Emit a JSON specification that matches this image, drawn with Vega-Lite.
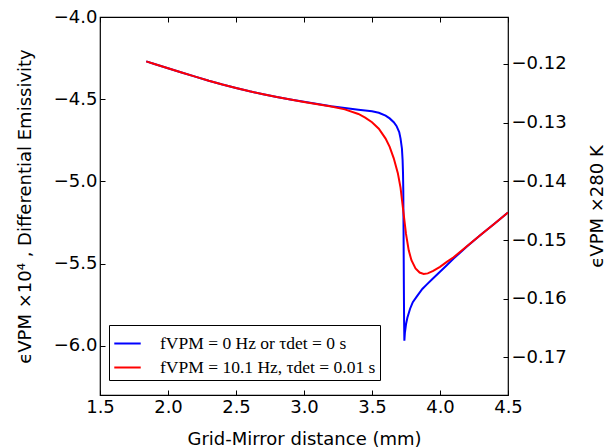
{
  "$schema": "https://vega.github.io/schema/vega-lite/v6.json",
  "width": 408,
  "height": 378,
  "autosize": "none",
  "padding": {"left": 100, "top": 17, "right": 99, "bottom": 53},
  "background": "white",
  "config": {
    "view": {"stroke": "black", "strokeWidth": 1.2},
    "axis": {
      "grid": false, "domain": false, "labelFlush": false, "labelOverlap": false,
      "labelFont": "DejaVu Sans", "labelFontSize": 18, "labelColor": "black",
      "titleFont": "DejaVu Sans", "titleFontSize": 18, "titleColor": "black", "titleFontWeight": "normal",
      "tickColor": "black", "tickSize": -5, "tickWidth": 1, "labelPadding": 8
    },
    "legend": {
      "labelFont": "Liberation Serif", "labelFontSize": 17.5, "labelColor": "black"
    }
  },
  "datasets": {
    "curves": [
      {"x": 1.84, "y": -4.270, "s": "fVPM = 0 Hz or τdet = 0 s"},
      {"x": 1.9, "y": -4.286, "s": "fVPM = 0 Hz or τdet = 0 s"},
      {"x": 2.0, "y": -4.312, "s": "fVPM = 0 Hz or τdet = 0 s"},
      {"x": 2.1, "y": -4.338, "s": "fVPM = 0 Hz or τdet = 0 s"},
      {"x": 2.2, "y": -4.363, "s": "fVPM = 0 Hz or τdet = 0 s"},
      {"x": 2.3, "y": -4.388, "s": "fVPM = 0 Hz or τdet = 0 s"},
      {"x": 2.4, "y": -4.411, "s": "fVPM = 0 Hz or τdet = 0 s"},
      {"x": 2.5, "y": -4.432, "s": "fVPM = 0 Hz or τdet = 0 s"},
      {"x": 2.6, "y": -4.452, "s": "fVPM = 0 Hz or τdet = 0 s"},
      {"x": 2.7, "y": -4.470, "s": "fVPM = 0 Hz or τdet = 0 s"},
      {"x": 2.8, "y": -4.487, "s": "fVPM = 0 Hz or τdet = 0 s"},
      {"x": 2.9, "y": -4.502, "s": "fVPM = 0 Hz or τdet = 0 s"},
      {"x": 3.0, "y": -4.516, "s": "fVPM = 0 Hz or τdet = 0 s"},
      {"x": 3.1, "y": -4.530, "s": "fVPM = 0 Hz or τdet = 0 s"},
      {"x": 3.2, "y": -4.543, "s": "fVPM = 0 Hz or τdet = 0 s"},
      {"x": 3.3, "y": -4.554, "s": "fVPM = 0 Hz or τdet = 0 s"},
      {"x": 3.4, "y": -4.564, "s": "fVPM = 0 Hz or τdet = 0 s"},
      {"x": 3.5, "y": -4.574, "s": "fVPM = 0 Hz or τdet = 0 s"},
      {"x": 3.55, "y": -4.583, "s": "fVPM = 0 Hz or τdet = 0 s"},
      {"x": 3.6, "y": -4.600, "s": "fVPM = 0 Hz or τdet = 0 s"},
      {"x": 3.63, "y": -4.617, "s": "fVPM = 0 Hz or τdet = 0 s"},
      {"x": 3.66, "y": -4.640, "s": "fVPM = 0 Hz or τdet = 0 s"},
      {"x": 3.68, "y": -4.663, "s": "fVPM = 0 Hz or τdet = 0 s"},
      {"x": 3.70, "y": -4.700, "s": "fVPM = 0 Hz or τdet = 0 s"},
      {"x": 3.71, "y": -4.740, "s": "fVPM = 0 Hz or τdet = 0 s"},
      {"x": 3.72, "y": -4.800, "s": "fVPM = 0 Hz or τdet = 0 s"},
      {"x": 3.725, "y": -4.870, "s": "fVPM = 0 Hz or τdet = 0 s"},
      {"x": 3.728, "y": -4.950, "s": "fVPM = 0 Hz or τdet = 0 s"},
      {"x": 3.730, "y": -5.050, "s": "fVPM = 0 Hz or τdet = 0 s"},
      {"x": 3.732, "y": -5.300, "s": "fVPM = 0 Hz or τdet = 0 s"},
      {"x": 3.734, "y": -5.600, "s": "fVPM = 0 Hz or τdet = 0 s"},
      {"x": 3.736, "y": -5.850, "s": "fVPM = 0 Hz or τdet = 0 s"},
      {"x": 3.738, "y": -5.970, "s": "fVPM = 0 Hz or τdet = 0 s"},
      {"x": 3.742, "y": -5.920, "s": "fVPM = 0 Hz or τdet = 0 s"},
      {"x": 3.75, "y": -5.870, "s": "fVPM = 0 Hz or τdet = 0 s"},
      {"x": 3.76, "y": -5.830, "s": "fVPM = 0 Hz or τdet = 0 s"},
      {"x": 3.78, "y": -5.775, "s": "fVPM = 0 Hz or τdet = 0 s"},
      {"x": 3.80, "y": -5.735, "s": "fVPM = 0 Hz or τdet = 0 s"},
      {"x": 3.83, "y": -5.700, "s": "fVPM = 0 Hz or τdet = 0 s"},
      {"x": 3.87, "y": -5.655, "s": "fVPM = 0 Hz or τdet = 0 s"},
      {"x": 3.9, "y": -5.630, "s": "fVPM = 0 Hz or τdet = 0 s"},
      {"x": 3.95, "y": -5.590, "s": "fVPM = 0 Hz or τdet = 0 s"},
      {"x": 4.0, "y": -5.550, "s": "fVPM = 0 Hz or τdet = 0 s"},
      {"x": 4.05, "y": -5.510, "s": "fVPM = 0 Hz or τdet = 0 s"},
      {"x": 4.1, "y": -5.470, "s": "fVPM = 0 Hz or τdet = 0 s"},
      {"x": 4.2, "y": -5.395, "s": "fVPM = 0 Hz or τdet = 0 s"},
      {"x": 4.3, "y": -5.325, "s": "fVPM = 0 Hz or τdet = 0 s"},
      {"x": 4.4, "y": -5.258, "s": "fVPM = 0 Hz or τdet = 0 s"},
      {"x": 4.5, "y": -5.190, "s": "fVPM = 0 Hz or τdet = 0 s"},
      {"x": 1.84, "y": -4.270, "s": "fVPM = 10.1 Hz, τdet = 0.01 s"},
      {"x": 1.9, "y": -4.286, "s": "fVPM = 10.1 Hz, τdet = 0.01 s"},
      {"x": 2.0, "y": -4.312, "s": "fVPM = 10.1 Hz, τdet = 0.01 s"},
      {"x": 2.1, "y": -4.338, "s": "fVPM = 10.1 Hz, τdet = 0.01 s"},
      {"x": 2.2, "y": -4.363, "s": "fVPM = 10.1 Hz, τdet = 0.01 s"},
      {"x": 2.3, "y": -4.388, "s": "fVPM = 10.1 Hz, τdet = 0.01 s"},
      {"x": 2.4, "y": -4.411, "s": "fVPM = 10.1 Hz, τdet = 0.01 s"},
      {"x": 2.5, "y": -4.432, "s": "fVPM = 10.1 Hz, τdet = 0.01 s"},
      {"x": 2.6, "y": -4.452, "s": "fVPM = 10.1 Hz, τdet = 0.01 s"},
      {"x": 2.7, "y": -4.470, "s": "fVPM = 10.1 Hz, τdet = 0.01 s"},
      {"x": 2.8, "y": -4.487, "s": "fVPM = 10.1 Hz, τdet = 0.01 s"},
      {"x": 2.9, "y": -4.502, "s": "fVPM = 10.1 Hz, τdet = 0.01 s"},
      {"x": 3.0, "y": -4.517, "s": "fVPM = 10.1 Hz, τdet = 0.01 s"},
      {"x": 3.1, "y": -4.531, "s": "fVPM = 10.1 Hz, τdet = 0.01 s"},
      {"x": 3.2, "y": -4.545, "s": "fVPM = 10.1 Hz, τdet = 0.01 s"},
      {"x": 3.3, "y": -4.562, "s": "fVPM = 10.1 Hz, τdet = 0.01 s"},
      {"x": 3.4, "y": -4.590, "s": "fVPM = 10.1 Hz, τdet = 0.01 s"},
      {"x": 3.45, "y": -4.612, "s": "fVPM = 10.1 Hz, τdet = 0.01 s"},
      {"x": 3.5, "y": -4.640, "s": "fVPM = 10.1 Hz, τdet = 0.01 s"},
      {"x": 3.55, "y": -4.680, "s": "fVPM = 10.1 Hz, τdet = 0.01 s"},
      {"x": 3.6, "y": -4.740, "s": "fVPM = 10.1 Hz, τdet = 0.01 s"},
      {"x": 3.63, "y": -4.790, "s": "fVPM = 10.1 Hz, τdet = 0.01 s"},
      {"x": 3.66, "y": -4.860, "s": "fVPM = 10.1 Hz, τdet = 0.01 s"},
      {"x": 3.69, "y": -4.950, "s": "fVPM = 10.1 Hz, τdet = 0.01 s"},
      {"x": 3.71, "y": -5.040, "s": "fVPM = 10.1 Hz, τdet = 0.01 s"},
      {"x": 3.73, "y": -5.180, "s": "fVPM = 10.1 Hz, τdet = 0.01 s"},
      {"x": 3.75, "y": -5.320, "s": "fVPM = 10.1 Hz, τdet = 0.01 s"},
      {"x": 3.77, "y": -5.420, "s": "fVPM = 10.1 Hz, τdet = 0.01 s"},
      {"x": 3.79, "y": -5.480, "s": "fVPM = 10.1 Hz, τdet = 0.01 s"},
      {"x": 3.82, "y": -5.530, "s": "fVPM = 10.1 Hz, τdet = 0.01 s"},
      {"x": 3.85, "y": -5.555, "s": "fVPM = 10.1 Hz, τdet = 0.01 s"},
      {"x": 3.88, "y": -5.563, "s": "fVPM = 10.1 Hz, τdet = 0.01 s"},
      {"x": 3.91, "y": -5.560, "s": "fVPM = 10.1 Hz, τdet = 0.01 s"},
      {"x": 3.95, "y": -5.545, "s": "fVPM = 10.1 Hz, τdet = 0.01 s"},
      {"x": 4.0, "y": -5.520, "s": "fVPM = 10.1 Hz, τdet = 0.01 s"},
      {"x": 4.05, "y": -5.490, "s": "fVPM = 10.1 Hz, τdet = 0.01 s"},
      {"x": 4.1, "y": -5.462, "s": "fVPM = 10.1 Hz, τdet = 0.01 s"},
      {"x": 4.2, "y": -5.393, "s": "fVPM = 10.1 Hz, τdet = 0.01 s"},
      {"x": 4.3, "y": -5.325, "s": "fVPM = 10.1 Hz, τdet = 0.01 s"},
      {"x": 4.4, "y": -5.258, "s": "fVPM = 10.1 Hz, τdet = 0.01 s"},
      {"x": 4.5, "y": -5.190, "s": "fVPM = 10.1 Hz, τdet = 0.01 s"}
    ],
    "rightaxis": [
      {"x": 1.5, "k": -0.1764},
      {"x": 4.5, "k": -0.112}
    ]
  },
  "layer": [
    {
      "data": {"name": "curves"},
      "mark": {"type": "line", "strokeWidth": 2, "clip": true},
      "encoding": {
        "x": {
          "field": "x", "type": "quantitative",
          "scale": {"domain": [1.5, 4.5], "nice": false, "zero": false},
          "axis": {"values": [1.5, 2.0, 2.5, 3.0, 3.5, 4.0, 4.5], "format": ".1f", "title": "Grid-Mirror distance (mm)", "titleY": 44, "titleBaseline": "middle"}
        },
        "y": {
          "field": "y", "type": "quantitative",
          "scale": {"domain": [-6.3, -4.0], "nice": false, "zero": false},
          "axis": {"values": [-6.0, -5.5, -5.0, -4.5, -4.0], "format": ".1f", "title": "ϵVPM ×10⁴ , Differential Emissivity", "titleX": -75, "titleY": 189, "titleBaseline": "middle", "titleAngle": -90}
        },
        "color": {
          "field": "s", "type": "nominal",
          "scale": {"domain": ["fVPM = 0 Hz or τdet = 0 s", "fVPM = 10.1 Hz, τdet = 0.01 s"], "range": ["#0000ff", "#ff0000"]},
          "legend": {
            "title": null, "orient": "none", "legendX": 9, "legendY": 308,
            "symbolType": "stroke", "symbolSize": 700, "symbolStrokeWidth": 2,
            "strokeColor": "black", "fillColor": "white", "padding": 4, "rowPadding": 1,
            "labelOffset": 18, "labelLimit": 400
          }
        }
      }
    },
    {
      "data": {"name": "rightaxis"},
      "mark": {"type": "point", "opacity": 0},
      "encoding": {
        "x": {
          "field": "x", "type": "quantitative",
          "scale": {"domain": [1.5, 4.5], "nice": false, "zero": false},
          "axis": {"orient": "top", "values": [1.5, 2.0, 2.5, 3.0, 3.5, 4.0, 4.5], "labels": false, "title": null}
        },
        "y": {
          "field": "k", "type": "quantitative",
          "scale": {"domain": [-0.1764, -0.112], "nice": false, "zero": false},
          "axis": {"orient": "right", "values": [-0.17, -0.16, -0.15, -0.14, -0.13, -0.12], "format": ".2f", "title": "ϵVPM ×280 K", "titleX": 89, "titleY": 189, "titleBaseline": "middle", "titleAngle": -90}
        }
      }
    }
  ],
  "resolve": {"scale": {"y": "independent"}, "axis": {"x": "independent", "y": "independent"}}
}
